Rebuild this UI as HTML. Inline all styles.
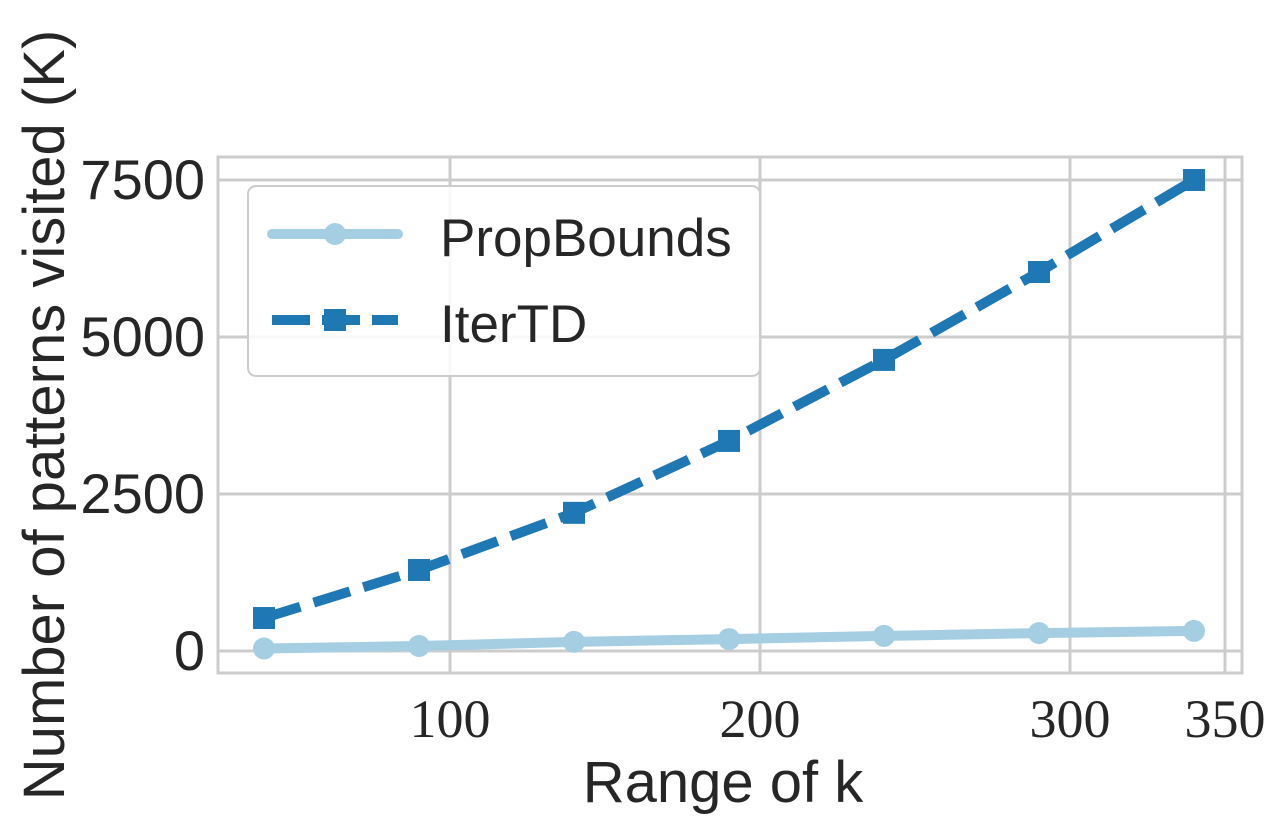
<!DOCTYPE html>
<html><head><meta charset="utf-8"><style>
body{margin:0;background:#fff;}
svg{display:block;font-family:"Liberation Sans","DejaVu Sans",sans-serif;}
</style></head><body>
<svg width="1276" height="830" viewBox="0 0 1276 830">
<g id="grid"></g>
<rect x="218" y="157" width="1024" height="516" fill="none" stroke="#cccccc" stroke-width="3"/>
<g id="series"></g>
<g id="ticks"></g>
<text x="723" y="802" font-size="58" text-anchor="middle" fill="#262626">Range of k</text>
<text transform="translate(64,415) rotate(-90)" font-size="58" text-anchor="middle" fill="#262626">Number of patterns visited (K)</text>
<g>
<rect x="248" y="186" width="512" height="190" rx="8" fill="#fff" fill-opacity="0.85" stroke="#cccccc" stroke-width="2"/>
<g>
<line x1="272" y1="234" x2="398" y2="234" stroke="#a6cee3" stroke-width="10" stroke-linecap="round"/>
<circle cx="335" cy="234" r="11" fill="#a6cee3"/>
<text x="440" y="256" font-size="53" fill="#262626">PropBounds</text></g>
<g>
<line x1="272" y1="320" x2="398" y2="320" stroke="#1f78b4" stroke-width="10" stroke-dasharray="38,12"/>
<rect x="324" y="309" width="22" height="22" fill="#1f78b4"/>
<text x="440" y="342" font-size="53" fill="#262626">IterTD</text></g>
</g>
</svg>
<script>
const kValues=[40,90,140,190,240,290,340];
const propBounds=[40,80,145,190,240,285,320];
const iterTD=[525,1290,2200,3345,4635,6035,7500];
const xTicks=[100,200,300,350];
const yTicks=[0,2500,5000,7500];
const NS="http://www.w3.org/2000/svg";
const xs=k=>450+(k-100)*3.1;
const ys=v=>651-v*157/2500;
function mk(tag,attrs,parent){const e=document.createElementNS(NS,tag);for(const a in attrs)e.setAttribute(a,attrs[a]);parent.appendChild(e);return e;}
const grid=document.getElementById('grid'),ticks=document.getElementById('ticks'),series=document.getElementById('series');
xTicks.forEach(t=>{
 const l=mk('line',{x1:xs(t),x2:xs(t),y1:157,y2:673,stroke:'#cccccc','stroke-width':3},grid);
 
 
 const tx=mk('text',{x:xs(t),y:737,'font-size':54,'text-anchor':'middle',fill:'#262626','font-family':'"Liberation Serif",serif'},ticks);
 tx.textContent=t;
 
 
});
yTicks.forEach(t=>{
 const l=mk('line',{x1:218,x2:1242,y1:ys(t),y2:ys(t),stroke:'#cccccc','stroke-width':3},grid);
 
 
 const tx=mk('text',{x:205,y:ys(t)+19,'font-size':56,'text-anchor':'end',fill:'#262626'},ticks);
 tx.textContent=t;
 
 
});
const p1=mk('polyline',{points:kValues.map((k,i)=>xs(k)+','+ys(propBounds[i])).join(' '),fill:'none',stroke:'#a6cee3','stroke-width':10,'stroke-linejoin':'round'},series);


kValues.forEach((k,i)=>{const c=mk('circle',{cx:xs(k),cy:ys(propBounds[i]),r:11,fill:'#a6cee3'},series);
 
 });
const p2=mk('polyline',{points:kValues.map((k,i)=>xs(k)+','+ys(iterTD[i])).join(' '),fill:'none',stroke:'#1f78b4','stroke-width':10,'stroke-dasharray':'38,14'},series);


kValues.forEach((k,i)=>{const r=mk('rect',{x:xs(k)-11,y:ys(iterTD[i])-11,width:22,height:22,fill:'#1f78b4'},series);
 
 });
</script>
</body></html>
